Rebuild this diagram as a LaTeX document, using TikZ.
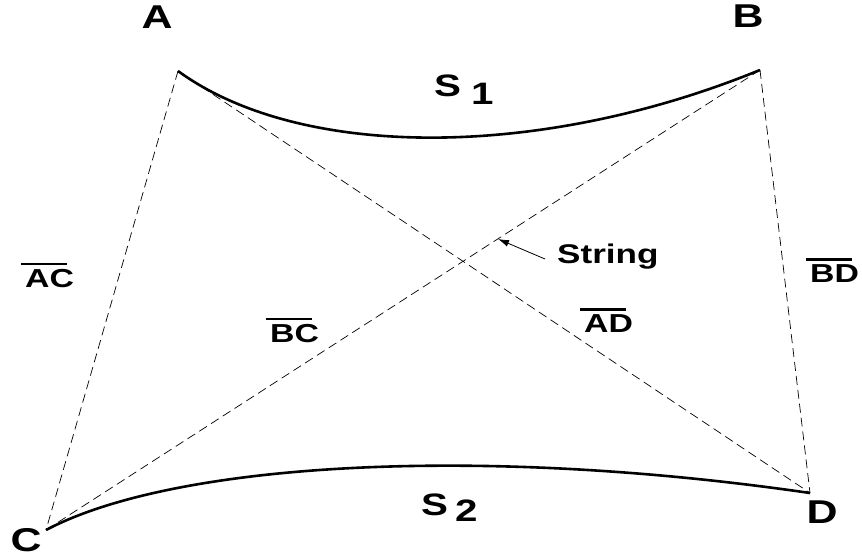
\documentclass[tikz,border=0pt]{standalone}
\usepackage{fontspec}
\setmainfont{Liberation Sans}[FakeStretch=1.3]
\usetikzlibrary{arrows.meta}
\newcommand\ovl[1]{\setbox0\hbox{#1}\rlap{\kern-4pt\raisebox{\dimexpr\ht0+3.5pt\relax}{\rule{\dimexpr\wd0-3pt\relax}{2.8pt}}}\box0}
\tikzset{
  corner/.style={font=\bfseries\fontsize{33}{35}\selectfont, inner sep=0pt},
  seglabel/.style={font=\bfseries\fontsize{26}{28}\selectfont, inner sep=0pt},
  surflabel/.style={font=\bfseries\fontsize{31}{33}\selectfont, inner sep=0pt},
  edge/.style={line width=2.6pt},
  strand/.style={line width=0.7pt, dash pattern=on 9pt off 5pt},
}
\begin{document}
\begin{tikzpicture}[x=1pt,y=-1pt]
\useasboundingbox (0,0) rectangle (862,559);
\coordinate (A) at (178,71);
\coordinate (B) at (760,70);
\coordinate (C) at (46,530);
\coordinate (D) at (810,493);
% surfaces
\draw[edge] (A) .. controls (300,160) and (540,160) .. (B);
\draw[edge] (C) .. controls (175,462) and (480,445) .. (D);
% strings
\draw[strand] (A) -- (C);
\draw[strand] (A) -- (D);
\draw[strand] (B) -- (C);
\draw[strand] (B) -- (D);
% labels
\node[corner] (la) at (157,17) {A};
\node[corner] (lb) at (748,16) {B};
\node[corner, anchor=base] (lc) at (26,551) {C};
\node[corner] (ld) at (822,512) {D};
\node[surflabel, anchor=base west] (s1) at (434,97) {S\raisebox{-8pt}{\kern10pt 1}};
\node[surflabel, anchor=base west] (s2) at (421,515) {S\raisebox{-6pt}{\kern7pt 2}};
\node[seglabel, anchor=base west] (lac) at (25,287) {\ovl{AC}};
\node[seglabel, anchor=base west] (lbc) at (270,342) {\ovl{BC}};
\node[seglabel, anchor=base west] (lad) at (584,332) {\ovl{AD}};
\node[seglabel, anchor=base west] (lbd) at (810,282) {\ovl{BD}};
\node[font=\bfseries\fontsize{27}{29}\selectfont, inner sep=0pt, anchor=base west] (str) at (557,263) {String};
\coordinate (tail) at (545,259);
\coordinate (tip) at (498,239);
\draw[line width=0.8pt, -{Latex[length=11pt,width=7pt]}] (tail) -- (tip);
\end{tikzpicture}
\end{document}
